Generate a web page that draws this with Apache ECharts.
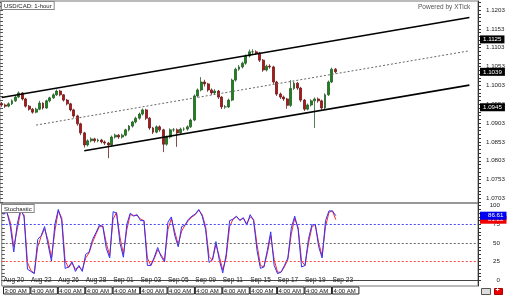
<!DOCTYPE html>
<html><head><meta charset="utf-8">
<script src="https://cdn.jsdelivr.net/npm/echarts@6/dist/echarts.min.js"></script>
<style>html,body{margin:0;padding:0;background:#fff}#c{width:510px;height:295px}</style>
</head><body><div id="c"></div>
<script>
// ---------- data ----------
const slotCount = 139; // category slots across the plot (data + empty future area)
const dateLabels = ['Aug 20','Aug 22','Aug 26','Aug 28','Sep 01','Sep 03','Sep 05','Sep 09','Sep 11','Sep 15','Sep 17','Sep 19','Sep 23'];
const timeLabels = ['3:00 AM','4:00 AM','4:00 AM','4:00 AM','4:00 AM','4:00 AM','4:00 AM','4:00 AM','4:00 AM','4:00 AM','4:00 AM','4:00 AM','4:00 AM'];
const labelStep = 8;
const priceTickLabels = [1.0703,1.0753,1.0803,1.0853,1.0903,1.0953,1.1003,1.1053,1.1103,1.1153,1.1203];
const stochTickLabels = [0,25,50,75,100];
// candles: [open, close, low, high]
const candles = [
[1.0955,1.0951,1.0946,1.0959],[1.0951,1.0948,1.0943,1.0955],[1.0948,1.0954,1.0945,1.0958],[1.0954,1.0962,1.0951,1.0966],
[1.0962,1.0972,1.0959,1.0976],[1.0972,1.0983,1.0969,1.0987],[1.0983,1.0967,1.0963,1.0985],[1.0967,1.0948,1.0944,1.0970],
[1.0948,1.0940,1.0936,1.0951],[1.0940,1.0932,1.0928,1.0943],[1.0932,1.0940,1.0929,1.0944],[1.0940,1.0956,1.0937,1.0962],
[1.0956,1.0943,1.0939,1.0958],[1.0943,1.0962,1.0941,1.0965],[1.0962,1.0970,1.0958,1.0973],[1.0970,1.0978,1.0967,1.0982],
[1.0978,1.0988,1.0975,1.0992],[1.0988,1.0978,1.0974,1.0991],[1.0978,1.0964,1.0960,1.0980],[1.0964,1.0954,1.0950,1.0967],
[1.0954,1.0938,1.0934,1.0957],[1.0938,1.0922,1.0917,1.0941],[1.0922,1.0901,1.0896,1.0925],[1.0901,1.0877,1.0871,1.0904],
[1.0877,1.0845,1.0838,1.0880],[1.0845,1.0856,1.0841,1.0860],[1.0856,1.0861,1.0852,1.0865],[1.0861,1.0856,1.0851,1.0864],
[1.0856,1.0858,1.0852,1.0862],[1.0858,1.0853,1.0849,1.0861],[1.0853,1.0850,1.0845,1.0857],[1.0850,1.0845,1.0810,1.0853],
[1.0845,1.0866,1.0842,1.0870],[1.0866,1.0871,1.0862,1.0875],[1.0871,1.0866,1.0861,1.0874],[1.0866,1.0871,1.0862,1.0875],
[1.0871,1.0885,1.0868,1.0888],[1.0885,1.0895,1.0881,1.0898],[1.0895,1.0906,1.0891,1.0909],[1.0906,1.0916,1.0902,1.0920],
[1.0916,1.0927,1.0912,1.0931],[1.0927,1.0938,1.0923,1.0942],[1.0938,1.0916,1.0911,1.0941],[1.0916,1.0890,1.0885,1.0919],
[1.0890,1.0879,1.0874,1.0893],[1.0879,1.0893,1.0876,1.0897],[1.0893,1.0885,1.0880,1.0897],[1.0885,1.0847,1.0826,1.0888],
[1.0847,1.0866,1.0843,1.0870],[1.0866,1.0885,1.0862,1.0889],[1.0885,1.0885,1.0880,1.0890],[1.0885,1.0877,1.0840,1.0889],
[1.0877,1.0887,1.0873,1.0891],[1.0887,1.0887,1.0882,1.0892],[1.0887,1.0893,1.0883,1.0897],[1.0893,1.0911,1.0890,1.0915],
[1.0911,1.0975,1.0908,1.0979],[1.0975,1.0991,1.0971,1.0995],[1.0991,1.1012,1.0987,1.1025],[1.1012,1.1007,1.1000,1.1018],
[1.1007,1.0991,1.0986,1.1010],[1.0991,1.0983,1.0978,1.0995],[1.0983,1.0988,1.0979,1.0993],[1.0988,1.0972,1.0967,1.0991],
[1.0972,1.0946,1.0940,1.0975],[1.0946,1.0946,1.0941,1.0951],[1.0946,1.0964,1.0943,1.0968],[1.0964,1.1017,1.0961,1.1021],
[1.1017,1.1046,1.1013,1.1050],[1.1046,1.1052,1.1042,1.1057],[1.1052,1.1062,1.1048,1.1066],[1.1062,1.1081,1.1058,1.1085],
[1.1081,1.1092,1.1077,1.1098],[1.1092,1.1092,1.1086,1.1099],[1.1092,1.1089,1.1084,1.1096],[1.1089,1.1070,1.1065,1.1092],
[1.1070,1.1044,1.1039,1.1073],[1.1044,1.1054,1.1040,1.1058],[1.1054,1.1052,1.1047,1.1059],[1.1052,1.1012,1.1007,1.1055],
[1.1012,1.0980,1.0975,1.1015],[1.0980,1.0972,1.0967,1.0984],[1.0972,1.0967,1.0962,1.0976],[1.0967,1.0950,1.0941,1.0970],
[1.0950,1.0995,1.0946,1.1017],[1.0995,1.1009,1.0991,1.1013],[1.1009,1.0996,1.0991,1.1012],[1.0996,1.0964,1.0959,1.0999],
[1.0964,1.0940,1.0935,1.0967],[1.0940,1.0951,1.0937,1.0955],[1.0951,1.0962,1.0947,1.0966],[1.0962,1.0967,1.0890,1.0971],
[1.0967,1.0962,1.0957,1.0971],[1.0962,1.0943,1.0938,1.0965],[1.0943,1.0978,1.0940,1.0982],[1.0978,1.1012,1.0975,1.1016],
[1.1012,1.1046,1.1009,1.1050],[1.1046,1.1039,1.1035,1.1049]
];
// channel lines: [slot index, price]
const upperChannel = [[0,1.0971],[136,1.1183]];
const midChannel   = [[10,1.08977],[136,1.10948]];
const lowerChannel = [[24,1.08295],[136,1.10038]];
const priceMarks = [1.1125, 1.1039, 1.0945];
// stochastic
const stochK = [88,92,72,38,75,95,85,15,12,9,55,60,72,48,26,75,95,80,16,18,25,12,20,12,35,38,55,64,74,72,43,30,92,90,50,31,75,90,86,88,80,80,20,20,31,44,32,25,78,85,60,45,72,74,82,86,89,95,86,68,24,28,52,27,10,35,80,82,86,80,84,74,88,80,40,16,18,40,65,20,9,11,20,30,70,86,68,18,20,55,74,75,45,30,80,93,93,86.61];
const stochD = [90,91,78,45,68,92,88,24,13,10,45,59,69,54,30,66,93,84,26,17,23,15,18,14,30,37,51,62,72,73,50,33,82,91,58,35,68,88,87,87,82,80,30,20,29,41,34,27,68,83,65,48,66,74,80,85,88,94,88,72,32,27,48,32,14,30,72,82,85,81,83,76,85,82,48,20,18,36,60,28,11,11,18,28,62,83,71,26,20,49,71,75,50,33,72,91,93,81.22];
const stochLevels = [75, 50, 25];

// ---------- chart ----------
const FONT = '"Liberation Sans", Arial, sans-serif';
const NONE = 'rgba(0,0,0,0)';
const categories = Array.from({length: slotCount}, (_, i) => String(i));
const fineTicks = []; for (let v = 1.0693; v <= 1.1226; v += 0.001) fineTicks.push(+v.toFixed(4));
const stochFine = []; for (let v = 0; v <= 100; v += 5) stochFine.push(v);
const showLabel = (i) => i % labelStep === 0 && i / labelStep < dateLabels.length;
const boxLabel = (bg, digits, padL) => ({show: true, position: 'end', distance: 2,
  formatter: (p) => Number(p.value).toFixed(digits), backgroundColor: bg, color: '#fff',
  fontSize: 6.2, padding: [1, 3, 1, padL], fontFamily: FONT});

const chart = echarts.init(document.getElementById('c'), null, {renderer: 'canvas'});
chart.setOption({
  animation: false,
  textStyle: {fontFamily: FONT},
  grid: [
    {left: 0, top: 1, width: 478, height: 202, show: true, borderColor: '#777', borderWidth: 1},
    {left: 0, top: 203, width: 478, height: 83, show: true, borderColor: '#777', borderWidth: 1}
  ],
  xAxis: [
    {type: 'category', gridIndex: 0, data: categories, boundaryGap: true,
     axisLine: {show: false}, axisTick: {show: false}, axisLabel: {show: false}},
    {type: 'category', gridIndex: 1, data: categories, boundaryGap: true,
     axisLine: {show: true, lineStyle: {color: '#444'}}, axisTick: {show: false},
     axisLabel: {inside: true, interval: (i) => showLabel(i), formatter: (v, i) => dateLabels[i / labelStep],
       fontSize: 6.5, color: '#222', align: 'left', margin: 2, fontFamily: FONT}},
    {type: 'category', gridIndex: 1, data: categories, boundaryGap: true, position: 'bottom',
     axisLine: {show: false}, axisTick: {show: false},
     axisLabel: {interval: (i) => showLabel(i), formatter: (v, i) => timeLabels[i / labelStep],
       fontSize: 6, color: '#111', align: 'left', margin: 1, borderColor: '#222', borderWidth: 1,
       padding: [1, 2, 0, 1], width: 23.5, overflow: 'truncate', fontFamily: FONT}}
  ],
  yAxis: [
    {type: 'value', gridIndex: 0, position: 'right', min: 1.0691, max: 1.12269, scale: true,
     axisLine: {show: true, lineStyle: {color: '#333'}},
     axisTick: {show: true, customValues: fineTicks, length: 3, lineStyle: {color: '#333'}},
     axisLabel: {customValues: priceTickLabels, formatter: (v) => v.toFixed(4), fontSize: 6.2, color: '#222', margin: 8, fontFamily: FONT},
     splitLine: {show: false}},
    {type: 'value', gridIndex: 0, position: 'left', min: 1.0691, max: 1.12269, scale: true,
     axisLine: {show: false}, axisTick: {show: true, inside: true, customValues: fineTicks, length: 3, lineStyle: {color: '#555'}},
     axisLabel: {show: false}, splitLine: {show: false}},
    {type: 'value', gridIndex: 1, position: 'right', min: -7.5, max: 103.6,
     axisLine: {show: true, lineStyle: {color: '#333'}},
     axisTick: {show: true, customValues: stochFine, length: 3, lineStyle: {color: '#333'}},
     axisLabel: {customValues: stochTickLabels, fontSize: 6.2, color: '#222', align: 'right', margin: 22, fontFamily: FONT},
     splitLine: {show: false}},
    {type: 'value', gridIndex: 1, position: 'left', min: -7.5, max: 103.6,
     axisLine: {show: false}, axisTick: {show: true, inside: true, customValues: stochFine, length: 3, lineStyle: {color: '#555'}},
     axisLabel: {show: false}, splitLine: {show: false}}
  ],
  series: [
    {type: 'candlestick', xAxisIndex: 0, yAxisIndex: 0, data: candles, barWidth: 2.4, silent: true,
     itemStyle: {color: '#108a10', color0: '#b81414', borderColor: '#2a5a2a', borderColor0: '#6a1a1a', borderWidth: 0.8}},
    {type: 'line', xAxisIndex: 0, yAxisIndex: 0, data: upperChannel, symbol: 'none', silent: true,
     lineStyle: {color: '#000', width: 1.6}},
    {type: 'line', xAxisIndex: 0, yAxisIndex: 0, data: midChannel, symbol: 'none', silent: true,
     lineStyle: {color: '#666', width: 1, type: [2, 2]}},
    {type: 'line', xAxisIndex: 0, yAxisIndex: 0, data: lowerChannel, symbol: 'none', silent: true,
     lineStyle: {color: '#000', width: 1.6},
     markLine: {silent: true, precision: 4, symbol: ['none', 'none'], lineStyle: {color: NONE, width: 0},
       label: boxLabel('#000', 4, 3),
       data: priceMarks.map(v => ({yAxis: v}))}},
    {type: 'line', xAxisIndex: 1, yAxisIndex: 2, data: stochD, symbol: 'none', silent: true,
     lineStyle: {color: '#ff2a2a', width: 1},
     markLine: {silent: true, precision: 2, symbol: ['none', 'none'],
       data: [
         {yAxis: stochLevels[0], lineStyle: {color: '#4444ff', type: [2, 2], width: 1}, label: {show: false}},
         {yAxis: stochLevels[1], lineStyle: {color: '#666', type: [2, 2], width: 1}, label: {show: false}},
         {yAxis: stochLevels[2], lineStyle: {color: '#ff4444', type: [2, 2], width: 1}, label: {show: false}},
         {yAxis: stochD[stochD.length - 1], lineStyle: {color: NONE, width: 0}, label: boxLabel('#ee0000', 2, 8)}
       ]}},
    {type: 'line', xAxisIndex: 1, yAxisIndex: 2, data: stochK, symbol: 'none', silent: true,
     lineStyle: {color: '#3030ff', width: 1},
     markLine: {silent: true, precision: 2, symbol: ['none', 'none'], lineStyle: {color: NONE, width: 0},
       data: [{yAxis: stochK[stochK.length - 1], label: boxLabel('#0000ee', 2, 8)}]}}
  ],
  graphic: [
    {type: 'text', left: 1, top: 1, z: 100, style: {text: 'USD/CAD: 1-hour', font: '6px ' + FONT, fill: '#222',
      backgroundColor: '#fff', borderColor: '#888', borderWidth: 1, padding: [1, 2, 0, 2]}},
    {type: 'text', left: 418, top: 4, z: 100, style: {text: 'Powered by XTick', font: '6.5px ' + FONT, fill: '#555'}},
    {type: 'text', left: 1, top: 204, z: 100, style: {text: 'Stochastic', font: '6px ' + FONT, fill: '#222',
      backgroundColor: '#fff', borderColor: '#888', borderWidth: 1, padding: [1, 2, 0, 2]}},
    {type: 'rect', left: 481, top: 288, z: 100, shape: {width: 9, height: 6}, style: {fill: '#ddd', stroke: '#555', lineWidth: 1}},
    {type: 'rect', left: 494, top: 288, z: 100, shape: {width: 8, height: 6}, style: {fill: '#e00', stroke: '#a00', lineWidth: 1}},
    {type: 'text', left: 495.5, top: 287, z: 101, style: {text: '+', font: 'bold 7px ' + FONT, fill: '#fff'}}
  ]
});
</script></body></html>
